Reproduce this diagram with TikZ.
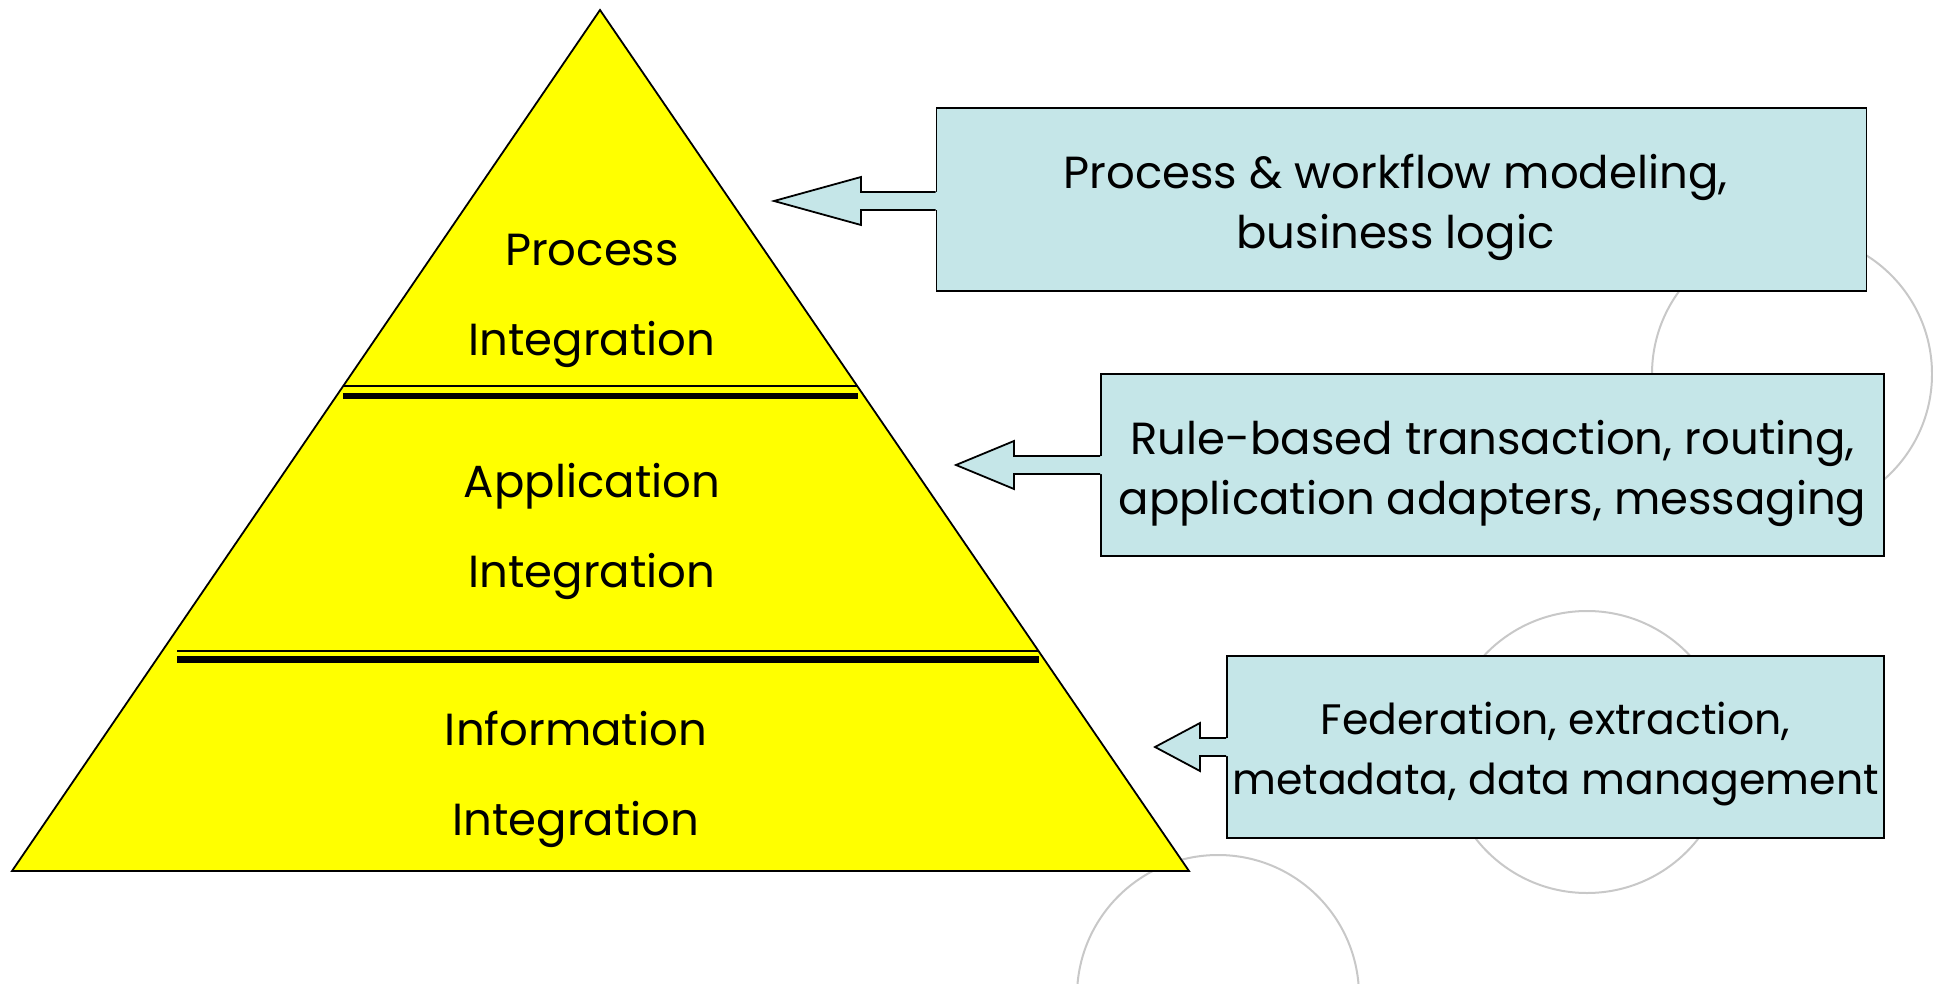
\documentclass[tikz,border=0pt]{standalone}
\usepackage{fontspec}
\setmainfont{Poppins}
\usetikzlibrary{calc}
\definecolor{boxblue}{RGB}{197,230,232}
\definecolor{circgray}{RGB}{200,200,200}
\definecolor{pyryellow}{RGB}{255,255,0}
\newcommand\callarrow[3]{%
  \fill[boxblue] (#2) -- ($(#2)+(#3,-24)$) -- ($(#2)+(#3,-9)$) -- ($(#1.west|-#2)+(3,-9)$)
     -- ($(#1.west|-#2)+(3,9)$) -- ($(#2)+(#3,9)$) -- ($(#2)+(#3,24)$) -- cycle;
  \draw[arrowline] ($(#1.west|-#2)+(0,-9)$) -- ($(#2)+(#3,-9)$) -- ($(#2)+(#3,-24)$) -- (#2)
     -- ($(#2)+(#3,24)$) -- ($(#2)+(#3,9)$) -- ($(#1.west|-#2)+(0,9)$);}
\begin{document}
\begin{tikzpicture}[x=0.5pt,y=-0.5pt,
  bgcircle/.style={draw=circgray,line width=1pt},
  infobox/.style={draw=black,fill=boxblue,line width=0.9pt,inner sep=0pt},
  boxtext/.style={align=center,font=\fontsize{22.5}{30}\selectfont,inner sep=0pt},
  arrowline/.style={draw=black,line width=0.9pt,line join=miter},
  pyrtext/.style={align=center,font=\fontsize{22.5}{45}\selectfont,inner sep=0pt},
  thinsep/.style={line width=1.25pt},
  thicksep/.style={line width=3.3pt}]
\useasboundingbox (0,0) rectangle (1933,984);
\clip (0,0) rectangle (1933,984);
% background circles
\draw[bgcircle] (1792,374) circle[radius=140];
\draw[bgcircle] (1587,752) circle[radius=141];
\draw[bgcircle] (1218,996) circle[radius=141];
% pyramid
\coordinate (apex) at (600,10);
\coordinate (bl) at (12,871);
\coordinate (br) at (1189,871);
\draw[fill=pyryellow,line width=0.9pt] (apex) -- (br) -- (bl) -- cycle;
\coordinate (s1a) at (343,386); \coordinate (s1b) at (857,386);
\coordinate (s1c) at (343,396); \coordinate (s1d) at (858,396);
\draw[thinsep] (s1a) -- (s1b);
\draw[thicksep] (s1c) -- (s1d);
\coordinate (s2a) at (177,651); \coordinate (s2b) at (1038,651);
\coordinate (s2c) at (177,659.5); \coordinate (s2d) at (1039,659.5);
\draw[thinsep] (s2a) -- (s2b);
\draw[thicksep] (s2c) -- (s2d);
\node[pyrtext] (proc) at (592,301) {Process\\Integration};
\node[pyrtext] (appl) at (592,531) {Application\\Integration};
\node[pyrtext] (info) at (576,779) {Information\\Integration};
% boxes
\node[infobox,minimum width=465pt,minimum height=91.5pt] (b1) at (1401.5,199.5) {};
\node[infobox,minimum width=391.5pt,minimum height=91pt] (b2) at (1492.5,465) {};
\node[infobox,minimum width=328.5pt,minimum height=91pt] (b3) at (1555.5,747) {};
\node[boxtext] (b1t) at ($(b1.center)+(-6,8)$) {Process \& workflow modeling,\\business logic};
\node[boxtext] (b2t) at ($(b2.center)+(0,8)$) {Rule-based transaction, routing,\\application adapters, messaging};
\node[boxtext,font=\fontsize{21.3}{30}\selectfont] (b3t) at ($(b3.center)+(0,7)$) {Federation, extraction,\\metadata, data management};
% arrows
\coordinate (t1) at (774,201);
\coordinate (t2) at (956,465);
\coordinate (t3) at (1155,747);
\callarrow{b1}{t1}{87}
\callarrow{b2}{t2}{58}
\callarrow{b3}{t3}{45}
\end{tikzpicture}
\end{document}
